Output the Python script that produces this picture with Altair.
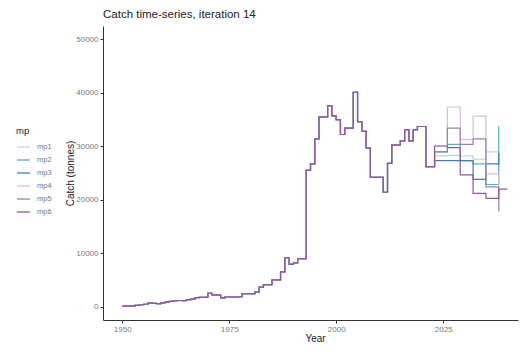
import altair as alt
import pandas as pd

# ---------------- data ----------------
hist_years = list(range(1950, 2023))
hist_catch = [
    100, 150, 150, 250, 350, 450, 700, 600, 550, 700,          # 1950-1959
    850, 1000, 1100, 1150, 1100, 1300, 1400, 1700, 1750, 1750,  # 1960-1969
    2500, 2200, 2150, 1650, 1800, 1800, 1800, 1850, 2450, 2450,  # 1970-1979
    2450, 2700, 3650, 4100, 4100, 5000, 5000, 6500, 9150, 7900,  # 1980-1989
    8200, 9000, 9000, 25500, 26700, 31400, 35500, 35500, 37600, 35700,  # 1990-1999
    35000, 32200, 33400, 33400, 40100, 34600, 32800, 29700, 24200, 24200,  # 2000-2009
    24200, 21400, 26800, 30200, 30200, 31000, 33100, 31000, 33100, 33700,  # 2010-2019
    33700, 26200, 26200,                                          # 2020-2022
]

proj_years = list(range(2023, 2039))
proj_mp1 = [28200, 28200, 28200, 28300, 28300, 28300, 28200, 28200, 28200,
            27600, 27600, 27600, 28950, 28950, 28950, 26000]
proj_mp2 = [28950, 28950, 28950, 30350, 30350, 30350, 27300, 27300, 27300,
            26700, 26700, 26700, 22850, 22850, 22850, 33800]
proj_mp3 = [27300, 27300, 27300, 27300, 27300, 27300, 27300, 27300, 27300,
            23800, 23800, 23800, 26700, 26700, 26700, 28700]
proj_mp4 = [30050, 30050, 30050, 37350, 37350, 37350, 31250, 31250, 31250,
            35650, 35650, 35650, 24850, 24850, 24850, 19650]
proj_mp5 = [28950, 28950, 28950, 33400, 33400, 33400, 30350, 30350, 30350,
            31400, 31400, 31400, 22400, 22400, 22400, 17800]
proj_mp6 = [30050, 30050, 30050, 29750, 29750, 29750, 24650, 24650, 24650,
            21200, 21200, 21200, 20250, 20250, 20250, 22000]
mp6_tail_year = [2040]
mp6_tail = [22000]

mp_names = ["mp1", "mp2", "mp3", "mp4", "mp5", "mp6"]
mp_colors = ["#bcd9e2", "#4fb2c6", "#4a7ea6", "#dcbcdc", "#9a80a6", "#8d5a9e"]
proj_all = [proj_mp1, proj_mp2, proj_mp3, proj_mp4, proj_mp5, proj_mp6]

y_ticks = [0, 10000, 20000, 30000, 40000, 50000]
x_ticks = [1950, 1975, 2000, 2025]

rows = []
for name, proj in zip(mp_names, proj_all):
    for yr, v in zip(hist_years, hist_catch):
        rows.append({"year": yr, "catch": v, "mp": name})
    for yr, v in zip(proj_years, proj):
        rows.append({"year": yr, "catch": v, "mp": name})
for yr, v in zip(mp6_tail_year, mp6_tail):
    rows.append({"year": yr, "catch": v, "mp": "mp6"})
df = pd.DataFrame(rows)

FONT = "Liberation Sans"
W, H = 415, 294

chart = (
    alt.Chart(df)
    .mark_line(interpolate="step-after", strokeWidth=1.2, clip=True)
    .encode(
        x=alt.X(
            "year:Q",
            scale=alt.Scale(domain=[1945.5, 2042.5], nice=False, zero=False),
            axis=alt.Axis(
                values=x_ticks, format="d", title="Year", grid=False,
                labelFontSize=8, labelColor="#777777", labelFont=FONT,
                tickSize=3, tickColor="#333333", domainColor="#333333",
                labelPadding=2, titleFontSize=10, titleFontWeight="normal",
                titleColor="#222222", titleFont=FONT,
                titleX=212, titleY=21, titleBaseline="alphabetic",
                titleAlign="center",
            ),
        ),
        y=alt.Y(
            "catch:Q",
            scale=alt.Scale(domain=[-2500, 52500], nice=False, zero=False),
            axis=alt.Axis(
                values=y_ticks, format="d", title="Catch (tonnes)", grid=False,
                labelFontSize=8, labelColor="#777777", labelFont=FONT,
                tickSize=3, tickColor="#333333", domainColor="#333333",
                labelPadding=2, titleFontSize=10, titleFontWeight="normal",
                titleColor="#222222", titleFont=FONT,
                titleX=-33, titleY=H / 2, titleAngle=270,
                titleBaseline="middle", titleAlign="center",
            ),
        ),
        color=alt.Color(
            "mp:N",
            scale=alt.Scale(domain=mp_names, range=mp_colors),
            legend=alt.Legend(
                title="mp", orient="none", legendX=-87, legendY=100,
                titleFontSize=9.5, titleFontWeight="normal", titleColor="#222222",
                titleFont=FONT, labelFont=FONT, labelFontSize=7.5,
                labelColor="#777777", symbolType="stroke", symbolSize=169,
                symbolStrokeWidth=1.3, rowPadding=2, labelOffset=6,
                titlePadding=4,
            ),
        ),
    )
    .properties(
        width=W,
        height=H,
        title=alt.TitleParams(
            "Catch time-series, iteration 14", anchor="start", fontSize=11.5,
            fontWeight="normal", color="#222222", font=FONT, offset=6,
            frame="group",
        ),
        autosize=alt.AutoSizeParams(type="none"),
        padding={"left": 95, "top": 18, "right": 1, "bottom": 23},
        background="white",
    )
    .configure_view(stroke=None)
)

chart.save("out.html", embed_options={"renderer": "svg", "actions": False})
